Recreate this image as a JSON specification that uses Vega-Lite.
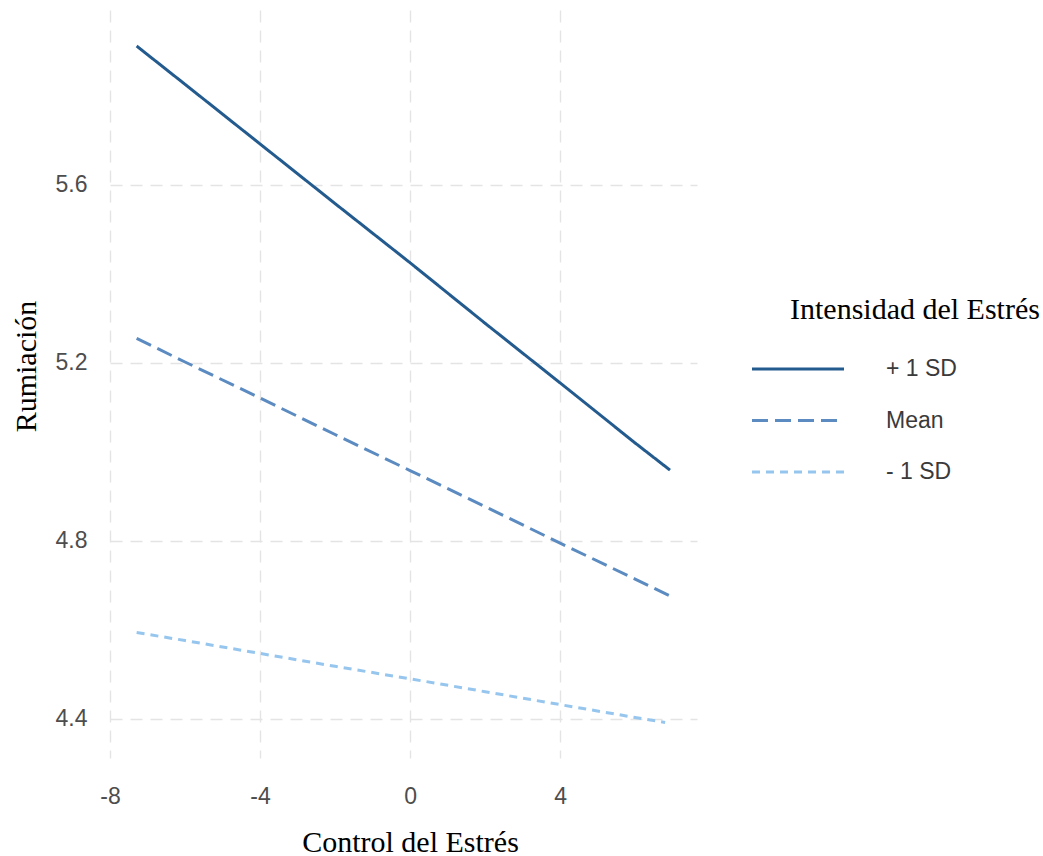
{
  "$schema": "https://vega.github.io/schema/vega-lite/v6.json",
  "width": 587,
  "height": 748,
  "autosize": {"type": "none"},
  "padding": {"left": 110, "top": 10, "right": 346, "bottom": 98},
  "background": "white",
  "config": {
    "view": {"stroke": null},
    "axis": {
      "grid": true,
      "gridColor": "#e4e4e4",
      "gridWidth": 1.4,
      "gridDash": [12, 8],
      "domain": false,
      "ticks": false,
      "labelFlush": false,
      "labelFont": "Liberation Sans",
      "labelFontSize": 23,
      "labelColor": "#4d4d4d",
      "titleFont": "Liberation Serif",
      "titleFontSize": 30,
      "titleFontWeight": "normal",
      "titleColor": "black"
    }
  },
  "data": {
    "values": [
      {"control": -7.29, "ruminacion": 5.912, "grupo": "+ 1 SD"},
      {"control": -6, "ruminacion": 5.826, "grupo": "+ 1 SD"},
      {"control": -4, "ruminacion": 5.692, "grupo": "+ 1 SD"},
      {"control": -2, "ruminacion": 5.558, "grupo": "+ 1 SD"},
      {"control": 0, "ruminacion": 5.425, "grupo": "+ 1 SD"},
      {"control": 2, "ruminacion": 5.289, "grupo": "+ 1 SD"},
      {"control": 4, "ruminacion": 5.155, "grupo": "+ 1 SD"},
      {"control": 6, "ruminacion": 5.02, "grupo": "+ 1 SD"},
      {"control": 6.93, "ruminacion": 4.959, "grupo": "+ 1 SD"},
      {"control": -7.29, "ruminacion": 5.255, "grupo": "Mean"},
      {"control": -6, "ruminacion": 5.202, "grupo": "Mean"},
      {"control": -4, "ruminacion": 5.121, "grupo": "Mean"},
      {"control": -2, "ruminacion": 5.039, "grupo": "Mean"},
      {"control": 0, "ruminacion": 4.958, "grupo": "Mean"},
      {"control": 2, "ruminacion": 4.877, "grupo": "Mean"},
      {"control": 4, "ruminacion": 4.795, "grupo": "Mean"},
      {"control": 6, "ruminacion": 4.714, "grupo": "Mean"},
      {"control": 6.93, "ruminacion": 4.676, "grupo": "Mean"},
      {"control": -7.29, "ruminacion": 4.594, "grupo": "- 1 SD"},
      {"control": -6, "ruminacion": 4.576, "grupo": "- 1 SD"},
      {"control": -4, "ruminacion": 4.547, "grupo": "- 1 SD"},
      {"control": -2, "ruminacion": 4.518, "grupo": "- 1 SD"},
      {"control": 0, "ruminacion": 4.49, "grupo": "- 1 SD"},
      {"control": 2, "ruminacion": 4.461, "grupo": "- 1 SD"},
      {"control": 4, "ruminacion": 4.432, "grupo": "- 1 SD"},
      {"control": 6, "ruminacion": 4.403, "grupo": "- 1 SD"},
      {"control": 6.8, "ruminacion": 4.392, "grupo": "- 1 SD"}
    ]
  },
  "mark": {"type": "line", "strokeWidth": 3},
  "encoding": {
    "x": {
      "field": "control",
      "type": "quantitative",
      "scale": {"domain": [-8.0, 7.65], "nice": false, "zero": false},
      "axis": {
        "title": "Control del Estrés",
        "values": [-8, -4, 0, 4],
        "labelExpr": "datum.value < 0 ? '-' + format(-datum.value, 'd') : format(datum.value, 'd')",
        "labelBaseline": "alphabetic",
        "labelPadding": 45,
        "titleX": 300,
        "titleY": 93,
        "titleBaseline": "alphabetic",
        "titleAlign": "center"
      }
    },
    "y": {
      "field": "ruminacion",
      "type": "quantitative",
      "scale": {"domain": [4.312, 5.993], "nice": false, "zero": false},
      "axis": {
        "title": "Rumiación",
        "values": [4.4, 4.8, 5.2, 5.6],
        "format": ".1f",
        "labelPadding": 23,
        "titleX": -75,
        "titleY": 356,
        "titleAngle": -90,
        "titleBaseline": "alphabetic",
        "titleAlign": "center"
      }
    },
    "color": {
      "field": "grupo",
      "type": "nominal",
      "scale": {"domain": ["+ 1 SD", "Mean", "- 1 SD"], "range": ["#245b8f", "#5b8bc0", "#96c6ee"]},
      "legend": {
        "title": "Intensidad del Estrés",
        "orient": "none",
        "legendX": 680,
        "legendY": 285,
        "padding": 0,
        "direction": "vertical",
        "titleFont": "Liberation Serif",
        "titleFontSize": 30,
        "titleFontWeight": "normal",
        "titleColor": "black",
        "titleLimit": 500,
        "titlePadding": 31,
        "labelFont": "Liberation Sans",
        "labelFontSize": 23,
        "labelColor": "#3a3a3a",
        "symbolType": "M-4,0H4",
        "symbolSize": 529,
        "symbolStrokeWidth": 3,
        "symbolOffset": -5,
        "labelOffset": 75,
        "rowPadding": 26.5
      }
    },
    "strokeDash": {
      "field": "grupo",
      "type": "nominal",
      "scale": {"domain": ["+ 1 SD", "Mean", "- 1 SD"], "range": [[1, 0], [16, 7], [8, 6]]},
      "legend": {
        "title": "Intensidad del Estrés",
        "orient": "none",
        "legendX": 680,
        "legendY": 285,
        "padding": 0,
        "direction": "vertical",
        "titleFont": "Liberation Serif",
        "titleFontSize": 30,
        "titleFontWeight": "normal",
        "titleColor": "black",
        "titleLimit": 500,
        "titlePadding": 31,
        "labelFont": "Liberation Sans",
        "labelFontSize": 23,
        "labelColor": "#3a3a3a",
        "symbolType": "M-4,0H4",
        "symbolSize": 529,
        "symbolStrokeWidth": 3,
        "symbolOffset": -5,
        "labelOffset": 75,
        "rowPadding": 26.5
      }
    }
  }
}
